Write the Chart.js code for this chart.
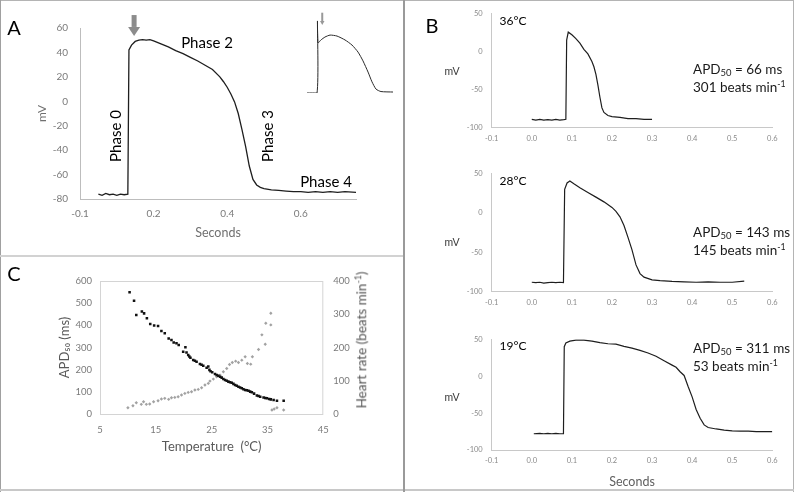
<!DOCTYPE html>
<html>
<head>
<meta charset="utf-8">
<script src="https://cdn.jsdelivr.net/npm/chart.js@4.4.1/dist/chart.umd.min.js"></script>
<style>
  body { margin: 0; background: #fff; }
  #fig { position: relative; width: 794px; height: 492px; overflow: hidden; font-family: Lato, "Liberation Sans", sans-serif; }
  canvas { position: absolute; }
  .rule { position: absolute; }
  .lbl { position: absolute; white-space: nowrap; line-height: 1; transform: translate(-50%, -50%); }
  .apd { position: absolute; white-space: nowrap; font-size: 13.5px; line-height: 17.5px; color: #1a1a1a; }
  sub { font-size: 70%; vertical-align: -0.25em; line-height: 0; }
  sup { font-size: 65%; vertical-align: 0.55em; line-height: 0; }
</style>
</head>
<body>
<div id="fig">
  <canvas id="chart-a" width="403" height="255" style="left:0;top:0"></canvas>
  <canvas id="chart-inset" width="100" height="90" style="left:300px;top:8px"></canvas>
  <canvas id="chart-b1" width="389" height="160" style="left:405px;top:0"></canvas>
  <canvas id="chart-b2" width="389" height="160" style="left:405px;top:160px"></canvas>
  <canvas id="chart-b3" width="389" height="172" style="left:405px;top:320px"></canvas>
  <canvas id="chart-c" width="403" height="232" style="left:0;top:258px"></canvas>

  <div class="rule" style="left:0;top:0;width:794px;height:1px;background:#b4b4b4"></div>
  <div class="rule" style="left:0;top:0;width:1px;height:492px;background:#a0a0a0"></div>
  <div class="rule" style="left:793px;top:0;width:1px;height:492px;background:#b4b4b4"></div>
  <div class="rule" style="left:0;top:489px;width:794px;height:2px;background:#c8c8c8"></div>
  <div class="rule" style="left:403px;top:0;width:2px;height:492px;background:#9a9a9a"></div>
  <div class="rule" style="left:0;top:255px;width:403px;height:2px;background:#d2d2d2"></div>

  <div class="lbl" style="left:14px;top:27px;font-size:20px">A</div>
  <div class="lbl" style="left:432px;top:25px;font-size:20px">B</div>
  <div class="lbl" style="left:14px;top:273px;font-size:20px">C</div>

  <div class="lbl" style="left:115px;top:136px;font-size:15px;transform:translate(-50%,-50%) rotate(-90deg)">Phase 0</div>
  <div class="lbl" style="left:207px;top:42px;font-size:15px">Phase 2</div>
  <div class="lbl" style="left:267px;top:136px;font-size:15px;transform:translate(-50%,-50%) rotate(-90deg)">Phase 3</div>
  <div class="lbl" style="left:326px;top:181px;font-size:15px">Phase 4</div>

  <div class="lbl" style="left:513px;top:21px;font-size:12px">36°C</div>
  <div class="lbl" style="left:513px;top:181px;font-size:12px">28°C</div>
  <div class="lbl" style="left:513px;top:346px;font-size:12px">19°C</div>

  <div class="lbl" style="left:452px;top:71px;font-size:10.5px;color:#3a3a3a">mV</div>
  <div class="lbl" style="left:452px;top:242px;font-size:10.5px;color:#3a3a3a">mV</div>
  <div class="lbl" style="left:452px;top:397px;font-size:10.5px;color:#3a3a3a">mV</div>

  <div class="apd" style="left:693px;top:61px">APD<sub>50</sub> = 66 ms<br>301 beats min<sup>-1</sup></div>
  <div class="apd" style="left:693px;top:224px">APD<sub>50</sub> = 143 ms<br>145 beats min<sup>-1</sup></div>
  <div class="apd" style="left:693px;top:340px">APD<sub>50</sub> = 311 ms<br>53 beats min<sup>-1</sup></div>

  <div class="lbl" style="left:362px;top:340px;font-size:13.5px;color:#555;transform:translate(-50%,-50%) rotate(-90deg)">Heart rate (beats min<sup>-1</sup>)</div>
</div>

<script>
Chart.defaults.font.family = 'Lato, "Liberation Sans", sans-serif';
Chart.defaults.color = '#808080';
Chart.defaults.animation = false;
Chart.defaults.responsive = false;
Chart.defaults.plugins.legend.display = false;
Chart.defaults.plugins.tooltip.enabled = false;

// panel A: one action potential (x axis labelled oddly in the source)
const aTime = [0.05, 0.06, 0.07, 0.08, 0.09, 0.10, 0.11, 0.12, 0.130, 0.133, 0.14, 0.15, 0.16, 0.17, 0.18, 0.19, 0.20,
  0.22, 0.24, 0.26, 0.28, 0.30, 0.32, 0.34, 0.36, 0.38, 0.39, 0.40, 0.41, 0.42, 0.43, 0.44, 0.45, 0.46, 0.47, 0.48, 0.49,
  0.50, 0.52, 0.54, 0.56, 0.58, 0.60, 0.62, 0.64, 0.66, 0.68, 0.70, 0.72, 0.75];
const aVolt = [-76, -77, -75.5, -76.5, -76, -77, -76, -76.5, -76, 42, 46, 49, 50, 50.5, 50, 50.5, 49.5,
  47, 44.5, 41.5, 39, 36, 33, 29.5, 26, 20, 16, 11.5, 6, -0.5, -10, -23, -37, -53, -64, -68.5, -70.5,
  -71.5, -72.5, -73, -73.5, -74, -74, -74.5, -74, -74.5, -74, -74.5, -74, -74.5];
const aXTicks = [0, 0.2, 0.4, 0.6];
const aXLabels = ['-0.1', '0.2', '0.4', '0.6'];
const aYTicks = [-80, -60, -40, -20, 0, 20, 40, 60];

// inset sketch in panel A
const insetTime = [0.007, 0.076, 0.079, 0.083, 0.103, 0.131, 0.166, 0.214, 0.269, 0.317, 0.359, 0.393, 0.428, 0.455, 0.483, 0.517, 0.6];
const insetVolt = [-80, -80, 68, 23, 29, 35, 39, 37, 29, 18.6, 4, -14, -37, -57, -72, -77, -78];

// panel B traces
const bTime36 = [0.0, 0.01, 0.02, 0.03, 0.04, 0.05, 0.06, 0.07, 0.08, 0.085, 0.087, 0.091, 0.10, 0.11, 0.12, 0.13, 0.14,
  0.15, 0.155, 0.16, 0.165, 0.17, 0.175, 0.18, 0.19, 0.20, 0.22, 0.24, 0.26, 0.28, 0.30];
const bVolt36 = [-89, -90, -89, -90, -89.5, -90, -89, -90, -89.5, -89, 15, 25.5, 22, 17, 11, 3, -3,
  -13, -20, -30, -44, -60, -74, -80, -84, -85.5, -86.5, -88, -88, -89, -89];
const bTime28 = [0.0, 0.01, 0.02, 0.03, 0.04, 0.05, 0.06, 0.07, 0.079, 0.082, 0.088, 0.095, 0.105, 0.12, 0.14, 0.16, 0.18,
  0.20, 0.21, 0.22, 0.23, 0.24, 0.25, 0.26, 0.27, 0.28, 0.30, 0.32, 0.35, 0.38, 0.41, 0.44, 0.47, 0.50, 0.53];
const bVolt28 = [-88, -88.5, -88, -89, -88.5, -88, -88.5, -88, -88.5, 30, 38, 40.5, 37, 32, 26, 20, 14,
  7, 2, -5, -16, -31, -47, -66, -77, -81.5, -85, -86, -87, -87.5, -88, -87.5, -88, -88, -86.5];
const bTime19 = [0.005, 0.02, 0.03, 0.04, 0.05, 0.06, 0.07, 0.079, 0.081, 0.085, 0.095, 0.11, 0.13, 0.15, 0.17, 0.19,
  0.21, 0.23, 0.25, 0.27, 0.29, 0.31, 0.33, 0.35, 0.36, 0.37, 0.38, 0.39, 0.40, 0.41, 0.42, 0.43, 0.44, 0.46, 0.48,
  0.50, 0.52, 0.54, 0.56, 0.58, 0.60];
const bVolt19 = [-78, -77.5, -78, -77.5, -78, -77.5, -78, -78, 40, 45, 47.5, 49, 49, 47.5, 45.5, 44,
  43.5, 40.5, 38, 35, 31.5, 27, 21, 15, 12, 6, 1, -14, -28, -45, -57, -66, -69.5, -71.5, -73,
  -74, -74.5, -74.5, -75, -75, -75];
const bXTicks = [-0.1, 0.0, 0.1, 0.2, 0.3, 0.4, 0.5, 0.6];
const bYTicks = [-100, -50, 0, 50];

// panel C: APD50 and heart rate against temperature
const cTempApd = [10.3, 11.1, 11.5, 12.5, 12.9, 13.4, 14.0, 14.7, 15.4, 16.0, 16.6, 17.3, 17.8, 18.2, 18.7, 19.1, 19.9,
  20.3, 20.5, 20.8, 21.0, 21.2, 21.7, 22.0, 22.3, 22.9, 23.2, 23.5, 24.1, 24.4, 24.6, 24.8, 25.1, 25.6, 25.9, 26.2,
  26.5, 26.8, 27.1, 27.4, 27.7, 28.0, 28.3, 28.6, 28.9, 29.2, 29.5, 29.8, 30.1, 30.4, 30.7, 31.0, 31.3, 31.6, 31.9,
  32.2, 32.6, 33.1, 33.4, 33.7, 34.3, 34.6, 34.9, 35.3, 35.6, 36.1, 36.7, 37.9];
const cApd = [549, 511, 447, 462, 454, 432, 406, 399, 397, 374, 364, 341, 334, 323, 319, 311, 281,
  301, 277, 266, 259, 254, 244, 240, 236, 226, 222, 218, 209, 214, 199, 193, 188, 180, 176, 173,
  168, 164, 158, 153, 150, 146, 143, 141, 136, 131, 127, 123, 120, 116, 112, 108, 107, 105, 101,
  98, 92, 83, 81, 78, 74, 72, 71, 68, 66, 63, 60, 60];
const cTempHr = [10.0, 10.9, 11.5, 12.4, 12.8, 13.3, 13.9, 14.6, 15.4, 16.0, 16.6, 17.3, 17.8, 18.4, 19.0, 19.6, 20.2,
  20.8, 21.4, 22.0, 22.6, 23.2, 23.8, 24.4, 24.7, 25.3, 25.9, 26.5, 27.1, 27.7, 28.2, 28.7, 29.3, 29.8, 30.4, 31.0,
  31.4, 32.0, 32.3, 33.4, 34.0, 34.6, 34.7, 35.6, 35.6, 35.8, 36.2, 36.7, 37.9];
const cHr = [19, 25, 34, 29, 37, 29, 30, 37, 40, 45, 47, 44, 49, 50, 52, 57, 62,
  65, 67, 72, 74, 79, 87, 92, 99, 105, 112, 117, 127, 137, 149, 155, 159, 155, 162, 172,
  152, 150, 172, 194, 238, 210, 273, 268, 303, 12, 15, 19, 12];

function pts(xs, ys) {
  return xs.map((x, i) => ({ x: x, y: ys[i] }));
}
function setTicks(values) {
  return function (scale) { scale.ticks = values.map(v => ({ value: v })); };
}
function fixWidth(w) {
  return function (scale) { scale.width = w; };
}
function fixHeight(h) {
  return function (scale) { scale.height = h; };
}

const arrowPlugin = {
  id: 'arrow',
  afterDatasetsDraw(chart, args, opts) {
    if (!opts || opts.x === undefined) return;
    const ctx = chart.ctx;
    const x = chart.scales.x.getPixelForValue(opts.x);
    const top = chart.scales.y.getPixelForValue(opts.top);
    const tip = chart.scales.y.getPixelForValue(opts.tip);
    const neck = tip - opts.head;
    ctx.save();
    ctx.fillStyle = opts.color;
    ctx.fillRect(x - opts.shaft / 2, top, opts.shaft, neck - top);
    ctx.beginPath();
    ctx.moveTo(x - opts.width / 2, neck);
    ctx.lineTo(x + opts.width / 2, neck);
    ctx.lineTo(x, tip);
    ctx.closePath();
    ctx.fill();
    ctx.restore();
  }
};

const framePlugin = {
  id: 'frame',
  beforeDatasetsDraw(chart, args, opts) {
    if (!opts || !opts.color) return;
    const a = chart.chartArea;
    const ctx = chart.ctx;
    ctx.save();
    ctx.strokeStyle = opts.color;
    ctx.lineWidth = 1;
    ctx.strokeRect(a.left + 0.5, a.top + 0.5, a.right - a.left - 1, a.bottom - a.top);
    ctx.restore();
  }
};

// ---- panel A
new Chart(document.getElementById('chart-a'), {
  type: 'line',
  data: {
    datasets: [{
      data: pts(aTime, aVolt),
      borderColor: '#1e1e1e',
      borderWidth: 1.3,
      pointRadius: 0,
      tension: 0
    }]
  },
  options: {
    layout: { padding: { top: 28, right: 47, left: 0, bottom: 0 } },
    scales: {
      x: {
        type: 'linear', min: 0, max: 0.75,
        afterBuildTicks: setTicks(aXTicks),
        afterFit: fixHeight(56),
        grid: { display: false, drawTicks: false },
        border: { color: '#bdbdbd', width: 1 },
        ticks: {
          padding: 9, color: '#7a7a7a', font: { size: 10 },
          callback: v => aXLabels[aXTicks.indexOf(v)]
        },
        title: { display: true, text: 'Seconds', color: '#707070', font: { size: 12.5 }, padding: { top: 0, bottom: 15 } }
      },
      y: {
        min: -80, max: 60,
        afterBuildTicks: setTicks(aYTicks),
        afterFit: fixWidth(80),
        grid: { display: false, drawTicks: false },
        border: { color: '#bdbdbd', width: 1 },
        ticks: { padding: 12, color: '#7a7a7a', font: { size: 10 } },
        title: { display: true, text: 'mV', color: '#707070', font: { size: 12 }, padding: { top: 35, bottom: 0 } }
      }
    },
    plugins: {
      arrow: { x: 0.147, top: 70.6, tip: 53.5, head: 9, shaft: 5, width: 12, color: '#8c8c8c' }
    }
  },
  plugins: [arrowPlugin]
});

// ---- inset sketch
new Chart(document.getElementById('chart-inset'), {
  type: 'line',
  data: {
    datasets: [{
      data: pts(insetTime, insetVolt),
      borderColor: '#2a2a2a',
      borderWidth: 1,
      pointRadius: 0,
      tension: 0.2
    }]
  },
  options: {
    layout: { padding: { top: 12, right: 7, left: 6, bottom: 5 } },
    scales: {
      x: { type: 'linear', min: 0, max: 0.6, display: false },
      y: { min: -80, max: 70, display: false }
    },
    plugins: {
      arrow: { x: 0.112, top: 85, tip: 59.7, head: 4, shaft: 2, width: 4.5, color: '#999999' }
    }
  },
  plugins: [arrowPlugin]
});

// ---- panel B
function traceB(id, xs, ys, padTop, axisHeight, withTitle) {
  return new Chart(document.getElementById(id), {
    type: 'line',
    data: {
      datasets: [{
        data: pts(xs, ys),
        borderColor: '#1e1e1e',
        borderWidth: 1.2,
        pointRadius: 0,
        tension: 0
      }]
    },
    options: {
      layout: { padding: { top: padTop, right: 21.7, left: 0, bottom: 0 } },
      scales: {
        x: {
          type: 'linear', min: -0.1, max: 0.6,
          afterBuildTicks: setTicks(bXTicks),
          afterFit: fixHeight(axisHeight),
          grid: { display: false, drawTicks: false },
          border: { color: '#c8c8c8', width: 1 },
          ticks: { padding: 6, color: '#8a8a8a', font: { size: 7.5 }, callback: v => v.toFixed(1) },
          title: { display: withTitle, text: 'Seconds', color: '#606060', font: { size: 12.5 }, padding: { top: 0, bottom: 3 } }
        },
        y: {
          min: -100, max: 50,
          afterBuildTicks: setTicks(bYTicks),
          afterFit: fixWidth(86.7),
          grid: { display: false, drawTicks: false },
          border: { color: '#c8c8c8', width: 1 },
          ticks: { padding: 9, color: '#8a8a8a', font: { size: 7.5 } }
        }
      }
    }
  });
}
traceB('chart-b1', bTime36, bVolt36, 10, 32.3, false);
traceB('chart-b2', bTime28, bVolt28, 13.3, 28.3, false);
traceB('chart-b3', bTime19, bVolt19, 19.3, 42, true);

// ---- panel C
new Chart(document.getElementById('chart-c'), {
  type: 'scatter',
  data: {
    datasets: [{
      data: pts(cTempApd, cApd),
      yAxisID: 'y',
      pointStyle: 'rect',
      pointRadius: 1.8,
      backgroundColor: '#111111',
      borderColor: '#111111',
      borderWidth: 0
    }, {
      data: pts(cTempHr, cHr),
      yAxisID: 'y1',
      pointStyle: 'rectRot',
      pointRadius: 1.7,
      backgroundColor: '#a2a2a2',
      borderColor: '#a2a2a2',
      borderWidth: 0
    }]
  },
  options: {
    layout: { padding: { top: 23, right: 0, left: 0, bottom: 0 } },
    scales: {
      x: {
        type: 'linear', min: 5, max: 45,
        afterFit: fixHeight(76),
        grid: { display: false, drawTicks: false },
        border: { display: false },
        ticks: { stepSize: 10, padding: 10, color: '#7a7a7a', font: { size: 9.5 } },
        title: { display: true, text: 'Temperature  (°C)', color: '#595959', font: { size: 13 }, padding: { top: 0, bottom: 35 } }
      },
      y: {
        position: 'left', min: 0, max: 600,
        afterFit: fixWidth(100),
        grid: { display: false, drawTicks: false },
        border: { display: false },
        ticks: { stepSize: 100, padding: 8, color: '#7a7a7a', font: { size: 9.5 } },
        title: { display: true, text: 'APD₅₀ (ms)', color: '#595959', font: { size: 13 }, padding: { top: 57, bottom: 0 } }
      },
      y1: {
        position: 'right', min: 0, max: 400,
        afterFit: fixWidth(79.7),
        grid: { display: false, drawTicks: false },
        border: { display: false },
        ticks: { stepSize: 100, padding: 10, color: '#7a7a7a', font: { size: 9.5 } }
      }
    },
    plugins: {
      frame: { color: '#d4d4d4' }
    }
  },
  plugins: [framePlugin]
});
</script>
</body>
</html>
